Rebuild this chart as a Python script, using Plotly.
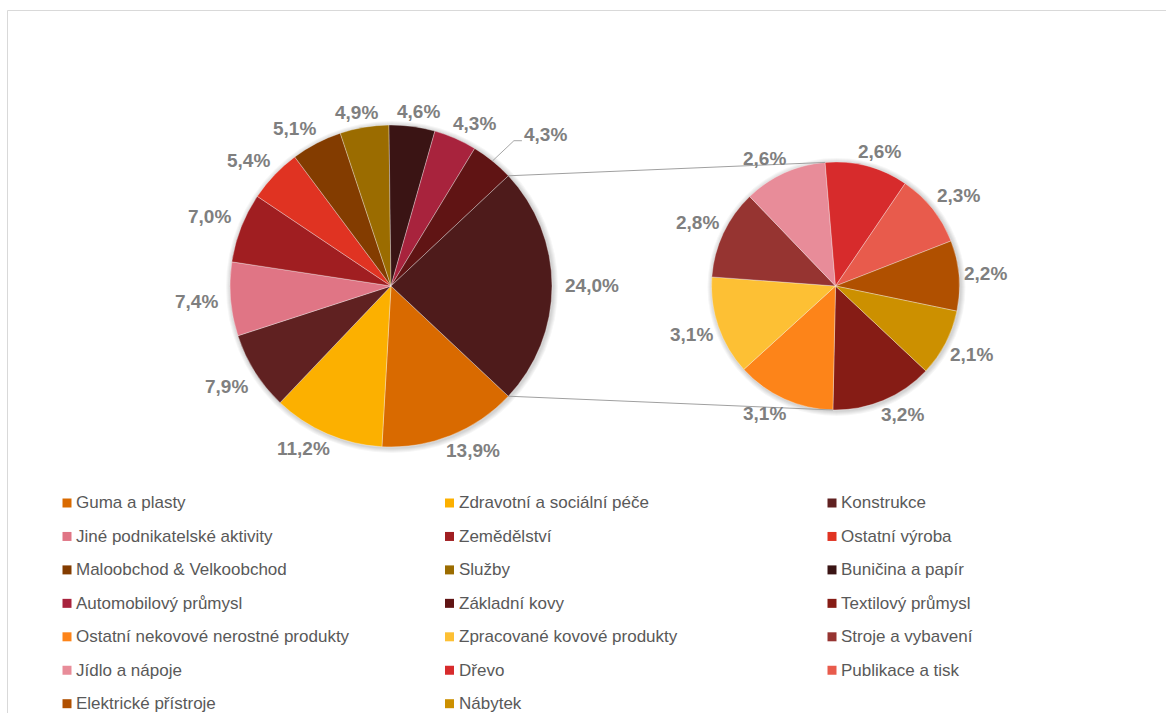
import math
import plotly.graph_objects as go

W, H = 1166, 713

# ---------------- data ----------------
main_labels = [
    "Guma a plasty", "Zdravotní a sociální péče", "Konstrukce",
    "Jiné podnikatelské aktivity", "Zemědělství", "Ostatní výroba",
    "Maloobchod & Velkoobchod", "Služby", "Buničina a papír",
    "Automobilový průmysl", "Základní kovy",
]
main_values = [13.9, 11.2, 7.9, 7.4, 7.0, 5.4, 5.1, 4.9, 4.6, 4.3, 4.3]
main_colors = [
    "#D96A00", "#FCB000", "#602121", "#E07585", "#A01E21", "#E03322",
    "#833C00", "#9B6C00", "#3A1414", "#A8233D", "#601414",
]
other_label = "Ostatní"
other_color = "#4E1B1B"

sec_labels = [
    "Textilový průmysl", "Ostatní nekovové nerostné produkty",
    "Zpracované kovové produkty", "Stroje a vybavení", "Jídlo a nápoje",
    "Dřevo", "Publikace a tisk", "Elektrické přístroje", "Nábytek",
]
sec_values = [3.2, 3.1, 3.1, 2.8, 2.6, 2.6, 2.3, 2.2, 2.1]
sec_colors = [
    "#861C15", "#FD8419", "#FDC034", "#963431", "#E88C99",
    "#D72B2C", "#E85B4C", "#B05000", "#CC9000",
]

# ---------------- geometry ----------------
other_value = sum(sec_values)
total = sum(main_values) + other_value
other_deg = other_value / total * 360.0
start_angle = 90.0 + other_deg / 2.0  # "other" slice centred on 3 o'clock

m_cx, m_cy, m_r = 391.0, 286.0, 161.0
s_cx, s_cy, s_r = 835.5, 286.0, 124.0

FONT = "Arial, Liberation Sans, sans-serif"
LBL_SIZE = 19
LBL_COLOR = "#7F7F7F"


def dom(cx, cy, r):
    return dict(x=[(cx - r) / W, (cx + r) / W], y=[1 - (cy + r) / H, 1 - (cy - r) / H])


def px(x):
    return x / W


def py(y):
    return 1 - y / H


fig = go.Figure()
fig.add_trace(go.Pie(
    labels=main_labels + [other_label],
    values=main_values + [other_value],
    marker=dict(colors=main_colors + [other_color], line=dict(color="rgba(255,255,255,0.55)", width=0.6)),
    sort=False, direction="clockwise", rotation=start_angle,
    domain=dom(m_cx, m_cy, m_r),
    textinfo="none", showlegend=False, hoverinfo="label+value",
))
fig.add_trace(go.Pie(
    labels=sec_labels,
    values=sec_values,
    marker=dict(colors=sec_colors, line=dict(color="rgba(255,255,255,0.55)", width=0.6)),
    sort=False, direction="clockwise", rotation=start_angle,
    domain=dom(s_cx, s_cy, s_r),
    textinfo="none", showlegend=False, hoverinfo="label+value",
))

shapes = []
annotations = []

# chart area border
shapes.append(dict(type="rect", xref="paper", yref="paper",
                   x0=px(7.5), x1=1.02, y0=-0.02, y1=py(10.5),
                   line=dict(color="#D9D9D9", width=1), fillcolor="rgba(0,0,0,0)", layer="below"))

# soft shadow behind both pies
for (cx, cy, r) in ((m_cx, m_cy, m_r), (s_cx, s_cy, s_r)):
    for k in (5, 4, 3, 2, 1):
        shapes.append(dict(type="circle", xref="paper", yref="paper",
                           x0=px(cx - r - k + 1), x1=px(cx + r + k + 1),
                           y0=py(cy + r + k + 1), y1=py(cy - r - k + 1),
                           line=dict(width=0), fillcolor="rgba(0,0,0,0.035)", layer="below"))


# ---------------- data labels (outside end) ----------------
def fmt(v):
    return f"{v:.1f}".replace(".", ",") + "%"


def text_w(s, size=LBL_SIZE):
    w = {"%": 0.889, ",": 0.278}
    return sum(w.get(ch, 0.556) for ch in s) * size


def clamp(t):
    return max(-1.0, min(1.0, t))


def place_labels(values, cx, cy, r, tot, gap=5.0, side_gap=0.0, box_h=20.0):
    out = []
    cum = 0.0
    prev = None
    for v in values:
        mid = math.radians(start_angle + (cum + v / 2.0) / tot * 360.0)
        cum += v
        s, c = math.sin(mid), math.cos(mid)
        R = r + gap + side_gap * s ** 6
        t = fmt(v)
        w = text_w(t)
        lx = cx + R * s + clamp(2 * s) * w / 2.0
        ly = cy - R * c - clamp(2 * c) * box_h / 2.0
        box = [lx - w / 2, lx + w / 2, ly - box_h / 2, ly + box_h / 2]
        leader = None
        if prev is not None:
            pad = 3
            ov_x = box[0] - pad < prev[1] + pad and box[1] + pad > prev[0] - pad
            ov_y = box[2] - pad < prev[3] + pad and box[3] + pad > prev[2] - pad
            if ov_x and ov_y:
                sign = 1 if s >= 0 else -1
                lx += sign * 28
                ly -= 12
                box = [lx - w / 2, lx + w / 2, ly - box_h / 2, ly + box_h / 2]
                p0 = (cx + r * s, cy - r * c)
                edge = box[0] if sign > 0 else box[1]
                elbow = (edge - sign * 10, ly + 6)
                end = (edge - sign * 2, ly + 6)
                leader = (p0, elbow, end)
        prev = box
        out.append((t, lx, ly, leader))
    return out


for (cx, cy, r, vals, tot, sg) in ((m_cx, m_cy, m_r, main_values + [other_value], total, 8.0),
                                   (s_cx, s_cy, s_r, sec_values, sum(sec_values), 0.0)):
    for t, lx, ly, leader in place_labels(vals, cx, cy, r, tot, side_gap=sg):
        annotations.append(dict(xref="paper", yref="paper", x=px(lx), y=py(ly),
                                xanchor="center", yanchor="middle", showarrow=False,
                                text=f"<b>{t}</b>",
                                font=dict(family=FONT, size=LBL_SIZE, color=LBL_COLOR)))
        if leader:
            for a, b in ((leader[0], leader[1]), (leader[1], leader[2])):
                shapes.append(dict(type="line", xref="paper", yref="paper",
                                   x0=px(a[0]), y0=py(a[1]), x1=px(b[0]), y1=py(b[1]),
                                   line=dict(color="#A6A6A6", width=1)))

# ---------------- connector lines to the secondary pie ----------------
sec_total = sum(sec_values)
a_top_main = math.radians(90.0 - other_deg / 2.0)
a_bot_main = math.radians(90.0 + other_deg / 2.0)
a_top_sec = math.radians(start_angle + sum(sec_values[:5]) / sec_total * 360.0)
a_bot_sec = math.radians(start_angle + sec_values[0] / sec_total * 360.0)


def pt(cx, cy, r, a):
    return cx + r * math.sin(a), cy - r * math.cos(a)


for am, as_ in ((a_top_main, a_top_sec), (a_bot_main, a_bot_sec)):
    x0, y0 = pt(m_cx, m_cy, m_r, am)
    x1, y1 = pt(s_cx, s_cy, s_r, as_)
    shapes.append(dict(type="line", xref="paper", yref="paper",
                       x0=px(x0), y0=py(y0), x1=px(x1), y1=py(y1),
                       line=dict(color="#A0A0A0", width=1)))

# ---------------- legend (3 columns, row-major) ----------------
legend_labels = main_labels + sec_labels
legend_colors = main_colors + sec_colors
col_x0, col_dx = 62.5, 382.5
row_y0, row_dy = 503.0, 33.45
sw = 9.0
for i, (lab, col) in enumerate(zip(legend_labels, legend_colors)):
    r_, c_ = divmod(i, 3)
    x = col_x0 + c_ * col_dx
    y = row_y0 + r_ * row_dy
    shapes.append(dict(type="rect", xref="paper", yref="paper",
                       x0=px(x), x1=px(x + sw), y0=py(y + sw / 2), y1=py(y - sw / 2),
                       line=dict(width=0), fillcolor=col))
    annotations.append(dict(xref="paper", yref="paper", x=px(x + 11.5), y=py(y),
                            xanchor="left", yanchor="middle", text=lab, showarrow=False,
                            font=dict(family=FONT, size=17, color="#595959")))

fig.update_layout(
    width=W, height=H,
    margin=dict(l=0, r=0, t=0, b=0),
    paper_bgcolor="white", plot_bgcolor="white",
    separators=", ",
    shapes=shapes, annotations=annotations,
    showlegend=False,
)

fig.write_html(
    "out.html",
    config={"displayModeBar": False},
    post_script="document.body.style.margin='0';document.body.style.overflow='hidden';",
)
